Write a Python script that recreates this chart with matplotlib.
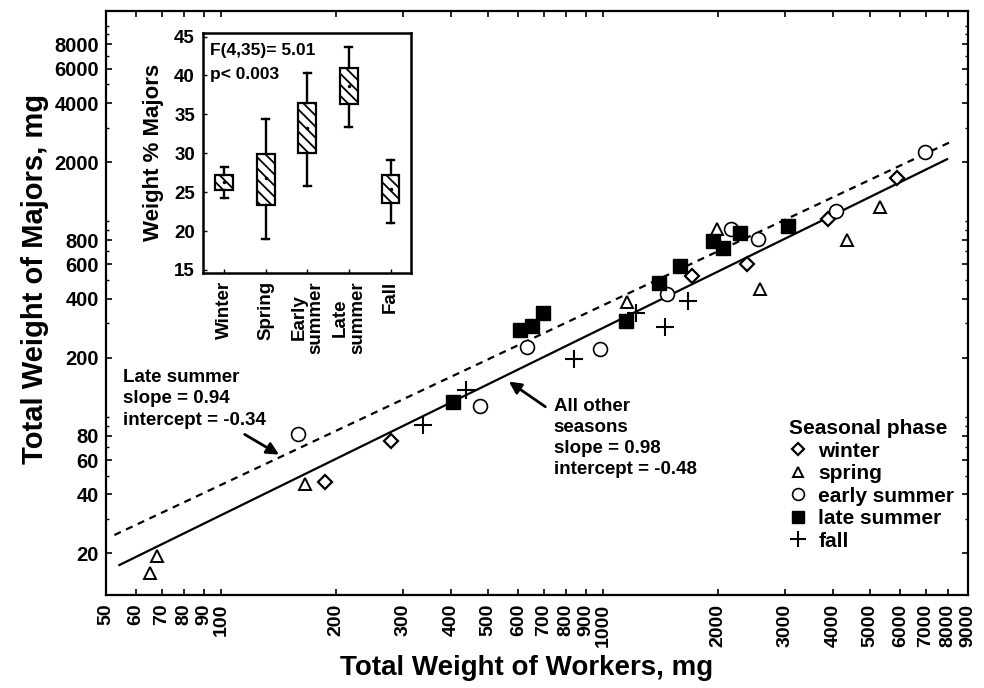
import numpy as np
import matplotlib
matplotlib.use('Agg')
import matplotlib.pyplot as plt
from matplotlib.ticker import FixedLocator, FixedFormatter, NullFormatter

plt.rcParams['font.family'] = ['Liberation Sans', 'DejaVu Sans']
plt.rcParams['font.weight'] = 'bold'
plt.rcParams['hatch.linewidth'] = 1.3

# ---------------- main scatter data (mg) ----------------
winter_x = [187, 278, 1707, 2379, 3875, 5880]
winter_y = [46.5, 75.3, 526, 604, 1022, 1657]
spring_x = [67.8, 65.2, 166, 1157, 1986, 2574, 4345, 5302]
spring_y = [19.4, 15.8, 45.3, 387, 911, 448, 801, 1177]
early_x = [159, 477, 634, 984, 1470, 2167, 2549, 4081, 6975]
early_y = [81.2, 113, 227, 222, 424, 911, 807, 1127, 2266]
late_x = [404, 605, 652, 696, 1151, 1404, 1591, 1945, 2058, 2288, 3039]
late_y = [119, 278, 291, 338, 309, 484, 590, 791, 726, 867, 948]
fall_x = [337, 438, 841, 1219, 1449, 1673]
fall_y = [90.6, 137, 197, 338, 289, 390]

# regression lines (log10 space) as drawn
other_slope, other_intercept = 0.958, -0.420
other_xrange = [54.2, 7949]
late_slope, late_intercept = 0.9185, -0.186
late_xrange = [52.6, 8147]

# axis ticks
x_ticks = [50, 60, 70, 80, 90, 100, 200, 300, 400, 500, 600, 700, 800, 900,
           1000, 2000, 3000, 4000, 5000, 6000, 7000, 8000, 9000]
x_ticklabels = [str(v) for v in x_ticks]
y_ticks = [20, 40, 60, 80, 200, 400, 600, 800, 2000, 4000, 6000, 8000]
y_ticklabels = [str(v) for v in y_ticks]
y_minor = [30, 50, 70, 90, 100, 300, 500, 700, 900, 1000, 3000, 5000, 7000, 9000, 10000]

# ---------------- inset data ----------------
seasons = ['Winter', 'Spring', 'Early\nsummer', 'Late\nsummer', 'Fall']
whisker_low = [24.3, 19.0, 25.8, 33.4, 21.1]
box_low = [25.3, 23.4, 30.1, 36.3, 23.6]
center = [26.3, 26.8, 33.2, 38.6, 25.4]
box_high = [27.2, 29.9, 36.4, 40.9, 27.2]
whisker_high = [28.3, 34.4, 40.3, 43.7, 29.2]
inset_yticks = [15, 20, 25, 30, 35, 40, 45]

fig = plt.figure(figsize=(9.84, 6.88), dpi=100)
ax = fig.add_axes([0.1077, 0.1347, 0.8763, 0.8497])
ax.set_xscale('log')
ax.set_yscale('log')
ax.set_xlim(50, 9030)
ax.set_ylim(12.2, 11900)

for s in ax.spines.values():
    s.set_linewidth(1.6)

ax.xaxis.set_major_locator(FixedLocator(x_ticks))
ax.xaxis.set_major_formatter(FixedFormatter(x_ticklabels))
ax.xaxis.set_minor_locator(FixedLocator([]))
ax.yaxis.set_major_locator(FixedLocator(y_ticks))
ax.yaxis.set_major_formatter(FixedFormatter(y_ticklabels))
ax.yaxis.set_minor_locator(FixedLocator(y_minor))
ax.yaxis.set_minor_formatter(NullFormatter())
ax.tick_params(which='major', direction='in', length=4, width=1.2,
               top=True, right=True, pad=5)
ax.tick_params(which='minor', direction='in', length=2.5, width=1.0, right=True)
ax.tick_params(axis='y', labelsize=14.5)
ax.tick_params(axis='x', labelrotation=90, pad=6, labelsize=14)
for lab in ax.get_xticklabels() + ax.get_yticklabels():
    lab.set_fontweight('bold')

# regression lines
lx = np.array(other_xrange)
ax.plot(lx, 10 ** (other_intercept + other_slope * np.log10(lx)), color='k', lw=1.6)
lx2 = np.array(late_xrange)
ax.plot(lx2, 10 ** (late_intercept + late_slope * np.log10(lx2)), color='k', lw=1.6,
        linestyle=(0, (3.2, 2.6)))

# points
ax.plot(winter_x, winter_y, 'D', ms=7, mfc='white', mec='k', mew=1.6, ls='none', label='winter')
ax.plot(spring_x, spring_y, '^', ms=9, mfc='white', mec='k', mew=1.4, ls='none', label='spring')
ax.plot(early_x, early_y, 'o', ms=10, mfc='white', mec='k', mew=1.2, ls='none', label='early summer')
ax.plot(late_x, late_y, 's', ms=10, mfc='k', mec='k', mew=1.0, ls='none', label='late summer')
ax.plot(fall_x, fall_y, '+', ms=13, mec='k', mew=1.5, ls='none', label='fall')

# annotations
ax.text(55.5, 176, 'Late summer\nslope = 0.94\nintercept = -0.34', ha='left', va='top',
        fontsize=13.5, fontweight='bold', linespacing=1.36)
ax.annotate('', xy=(143.9, 62.9), xytext=(113.7, 82.5),
            arrowprops=dict(arrowstyle='-|>', color='k', lw=2, mutation_scale=18))
ax.text(742, 124, 'All other\nseasons\nslope = 0.98\nintercept = -0.48', ha='left', va='top',
        fontsize=13.5, fontweight='bold', linespacing=1.3)
ax.annotate('', xy=(559, 154), xytext=(716, 110.3),
            arrowprops=dict(arrowstyle='-|>', color='k', lw=2, mutation_scale=18))

handles, labels = ax.get_legend_handles_labels()
leg = ax.legend(handles, labels, loc='upper left', bbox_to_anchor=(789 / 984, 1 - 419 / 688),
                bbox_transform=fig.transFigure, frameon=False, title='Seasonal phase',
                prop={'weight': 'bold', 'size': 15},
                title_fontproperties={'weight': 'bold', 'size': 15},
                handlelength=0.9, handletextpad=0.5, labelspacing=0.17,
                borderpad=0, borderaxespad=0, alignment='left', markerscale=0.85)

# axis labels
fig.text(527 / 984, 1 - 668 / 688, 'Total Weight of Workers, mg', ha='center', va='center',
         fontsize=20, fontweight='bold')
fig.text(35 / 984, 1 - 279 / 688, 'Total Weight of Majors, mg', ha='center', va='center',
         rotation=90, fontsize=21, fontweight='bold')

# ---------------- inset ----------------
ins = fig.add_axes([203.3 / 984, 1 - 272.7 / 688, 208 / 984, 240 / 688])
ins.set_facecolor('white')
for s in ins.spines.values():
    s.set_linewidth(1.8)
stats = []
for i in range(len(seasons)):
    stats.append(dict(med=center[i], q1=box_low[i], q3=box_high[i], whislo=whisker_low[i],
                      whishi=whisker_high[i], mean=center[i], fliers=[]))
positions = np.arange(1, len(seasons) + 1)
bp = ins.bxp(stats, positions=positions, widths=0.43, capwidths=0.17, patch_artist=True,
             showmeans=True, showfliers=False,
             boxprops=dict(facecolor='white', edgecolor='k', linewidth=1.6, hatch='\\\\\\'),
             whiskerprops=dict(color='k', linewidth=1.7),
             capprops=dict(color='k', linewidth=1.7),
             medianprops=dict(linewidth=0),
             meanprops=dict(marker='.', markersize=3, markerfacecolor='k', markeredgecolor='k'))
ins.set_xlim(0.5, 5.5)
ins.set_ylim(14.65, 45.5)
ins.set_yticks(inset_yticks)
ins.set_xticks(positions)
ins.set_xticklabels(seasons, rotation=90, fontsize=13.5, fontweight='bold', linespacing=1.0)
ins.tick_params(direction='in', length=3, width=1.0, labelsize=13.5, pad=6)
for lab in ins.get_yticklabels():
    lab.set_fontweight('bold')
ins.set_ylabel('Weight % Majors', fontsize=16, fontweight='bold')
ins.yaxis.set_label_coords(-0.19, 0.5)
ins.text(0.032, 0.955, 'F(4,35)= 5.01\np< 0.003', transform=ins.transAxes, ha='left', va='top',
         fontsize=12.5, fontweight='bold', linespacing=1.7)

fig.savefig('out.png', dpi=100)
